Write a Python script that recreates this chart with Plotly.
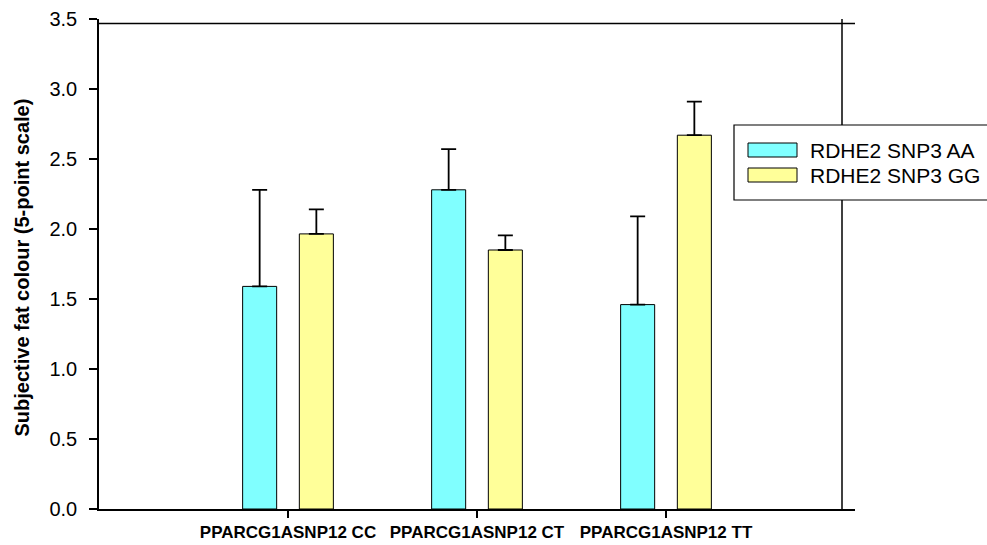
import plotly.graph_objects as go

categories = ["PPARCG1ASNP12 CC", "PPARCG1ASNP12 CT", "PPARCG1ASNP12 TT"]
series_names = ["RDHE2 SNP3 AA", "RDHE2 SNP3 GG"]
aa_values = [1.59, 2.28, 1.46]
aa_errors = [0.69, 0.29, 0.63]
gg_values = [1.965, 1.85, 2.67]
gg_errors = [0.175, 0.104, 0.24]
y_ticks = [0.0, 0.5, 1.0, 1.5, 2.0, 2.5, 3.0, 3.5]
y_title = "Subjective fat colour (5-point scale)"

colors = ["#80FFFF", "#FFFF99"]

W, H = 987, 545
L, R, T, B = 99, 132, 19, 36
PW, PH = W - L - R, H - T - B


def px(x):
    return (x - L) / PW


def py(y):
    return (H - B - y) / PH


FONT = "Arial, Liberation Sans, sans-serif"

fig = go.Figure()
for name, vals, errs, col in [
    (series_names[0], aa_values, aa_errors, colors[0]),
    (series_names[1], gg_values, gg_errors, colors[1]),
]:
    fig.add_trace(go.Bar(
        x=categories, y=vals, name=name,
        marker=dict(color=col, line=dict(color="black", width=1)),
        error_y=dict(type="data", symmetric=False, array=errs,
                     arrayminus=[0] * len(errs),
                     color="black", thickness=1.8, width=7.5),
        showlegend=False,
    ))

shapes = []
# top frame line
shapes.append(dict(type="line", xref="paper", yref="paper",
                   x0=0, x1=1, y0=py(23.6), y1=py(23.6),
                   line=dict(color="black", width=1.5)))
# right vertical line
shapes.append(dict(type="line", xref="paper", yref="paper",
                   x0=px(842), x1=px(842), y0=1, y1=0,
                   line=dict(color="black", width=1.5)))
# legend box
shapes.append(dict(type="rect", xref="paper", yref="paper",
                   x0=px(734), x1=px(995), y0=py(200), y1=py(125),
                   fillcolor="white", line=dict(color="black", width=1.2)))
annotations = []
for i, (name, col) in enumerate(zip(series_names, colors)):
    yc = 150 + 25 * i
    shapes.append(dict(type="rect", xref="paper", yref="paper",
                       x0=px(748), x1=px(797), y0=py(yc + 7), y1=py(yc - 7),
                       fillcolor=col, line=dict(color="black", width=1)))
    annotations.append(dict(xref="paper", yref="paper", x=px(808), y=py(yc),
                            xanchor="left", yanchor="middle", showarrow=False,
                            text=name, font=dict(family=FONT, size=21, color="black")))

annotations.append(dict(xref="paper", yref="paper", x=px(21), y=py(267.5),
                        xanchor="center", yanchor="middle", showarrow=False,
                        textangle=-90, text="<b>" + y_title + "</b>",
                        font=dict(family=FONT, size=20, color="black")))

fig.update_layout(
    width=W, height=H,
    margin=dict(l=L, r=R, t=T, b=B, autoexpand=False),
    paper_bgcolor="white", plot_bgcolor="white",
    barmode="group", bargap=0.4, bargroupgap=0.4,
    shapes=shapes, annotations=annotations,
    showlegend=False,
)
fig.update_xaxes(
    type="category", range=[-1, 3], showgrid=False, zeroline=False,
    showline=True, linecolor="black", linewidth=1.5,
    ticks="outside", ticklen=7, tickwidth=1.5, tickcolor="black",
    tickfont=dict(family=FONT, size=17, color="black"),
    tickvals=categories, ticktext=["<b>" + c + "</b>" for c in categories],
)
fig.update_yaxes(
    range=[0, 3.5], showgrid=False, zeroline=False,
    showline=True, linecolor="black", linewidth=1.5,
    ticks="outside", ticklen=8, tickwidth=1.5, tickcolor="black",
    tickvals=y_ticks, ticktext=[f"{v:.1f}" for v in y_ticks],
    tickfont=dict(family=FONT, size=20, color="black"),
    ticklabelstandoff=8,
)

fig.write_html("out.html")
